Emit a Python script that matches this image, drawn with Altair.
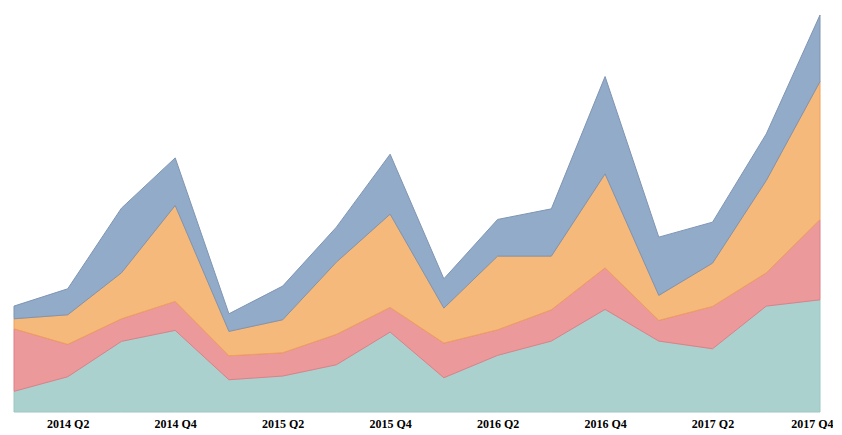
import altair as alt
import pandas as pd

quarters = [f"{y} Q{q}" for y in (2014, 2015, 2016, 2017) for q in (1, 2, 3, 4)]
series = ["A", "B", "C", "D"]
teal = [20.7, 35.3, 70.7, 81.7, 32.3, 36.0, 47.3, 80.0, 34.3, 56.7, 71.0, 102.7, 71.0, 63.3, 106.0, 112.3]
red = [62.6, 32.4, 22.6, 29.0, 24.0, 23.3, 30.4, 24.7, 34.7, 25.6, 31.3, 41.6, 20.7, 42.4, 33.3, 80.4]
orange = [10.0, 29.6, 46.0, 96.0, 24.4, 33.0, 72.3, 93.3, 35.0, 73.7, 53.7, 94.0, 25.0, 43.3, 92.4, 138.0]
blue = [12.7, 26.0, 64.7, 47.6, 17.6, 33.7, 35.0, 60.0, 29.3, 36.7, 47.3, 97.4, 58.3, 41.0, 46.6, 66.6]
tick_labels = [q for q in quarters if q.endswith("Q2") or q.endswith("Q4")]

fills = ["#abd1ce", "#ec999b", "#f5b97c", "#92abc8"]
strokes = ["#9cc8c4", "#dc8088", "#f0a05a", "#7f95b2"]

rows = []
for k, (name, vals) in enumerate(zip(series, [teal, red, orange, blue])):
    for q, v in zip(quarters, vals):
        rows.append({"quarter": q, "series": name, "k": k, "value": v})
df = pd.DataFrame(rows)

total_max = max(a + b + c + d for a, b, c, d in zip(teal, red, orange, blue))

chart = alt.Chart(df).mark_area(strokeWidth=1, fillOpacity=1).encode(
    x=alt.X("quarter:O", sort=quarters,
            scale=alt.Scale(type="point", padding=0),
            axis=alt.Axis(values=tick_labels, labelAngle=0, title=None,
                          ticks=False, domain=False, grid=False,
                          labelFont="Liberation Serif", labelFontWeight="bold",
                          labelFontSize=12, labelColor="#000000", labelPadding=6,
                          labelFlush=True, labelFlushOffset=13)),
    y=alt.Y("value:Q", stack="zero",
            scale=alt.Scale(domain=[0, total_max], nice=False),
            axis=None),
    fill=alt.Fill("series:N", scale=alt.Scale(domain=series, range=fills), legend=None),
    stroke=alt.Stroke("series:N", scale=alt.Scale(domain=series, range=strokes), legend=None),
    order=alt.Order("k:Q", sort="ascending"),
).properties(
    width=806, height=397,
    padding={"left": 4, "top": 5, "right": 0, "bottom": 0},
).configure_view(stroke=None)

chart.save("out.html", embed_options={"renderer": "svg", "actions": False})
